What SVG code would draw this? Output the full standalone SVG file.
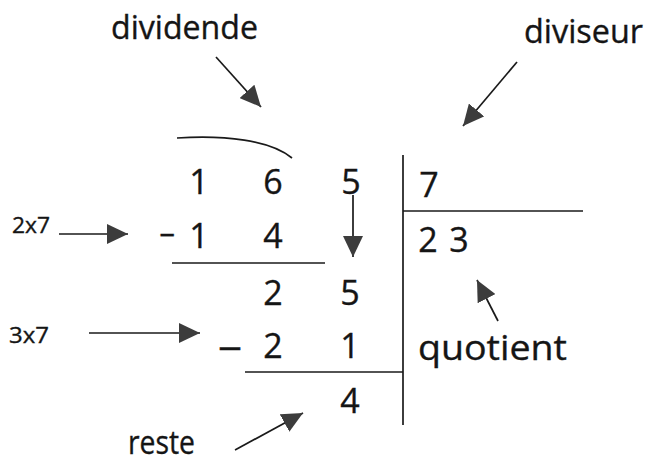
<svg xmlns="http://www.w3.org/2000/svg" width="646" height="465" viewBox="0 0 646 465">
<defs>
<style>
.lbl{font-family:"Open Sans","Noto Sans","Liberation Sans",sans-serif;fill:#151515;stroke:#151515;stroke-width:0.35}
.big{font-size:32px}
.sm{font-size:22px}
.dig{font-family:"Open Sans","Noto Sans","Liberation Sans",sans-serif;font-size:34px;fill:#151515;stroke:#151515;stroke-width:0.35;text-anchor:middle}
.ln{stroke:#1a1a1a;stroke-width:1.7;fill:none}
.ar{stroke:#1a1a1a;stroke-width:1.7;fill:none;marker-end:url(#head)}
</style>
<marker id="head" viewBox="0 0 21 20" refX="21" refY="10" markerWidth="21" markerHeight="20" markerUnits="userSpaceOnUse" orient="auto">
<path d="M0,0 L21,10 L0,20 Z" fill="#3c3c3c"/>
</marker>
</defs>
<rect width="646" height="465" fill="#ffffff"/>

<g id="labels">
<text id="dividende" class="lbl big" x="111" y="39" textLength="147" lengthAdjust="spacingAndGlyphs">dividende</text>
<text id="diviseur" class="lbl big" x="524" y="43" textLength="119" lengthAdjust="spacingAndGlyphs">diviseur</text>
<text id="t2x7" class="lbl sm" x="12" y="233" textLength="38" lengthAdjust="spacingAndGlyphs">2x7</text>
<text id="t3x7" class="lbl sm" x="9" y="343" textLength="40" lengthAdjust="spacingAndGlyphs">3x7</text>
<text id="quotient" class="lbl" font-size="35" x="418" y="360" textLength="149" lengthAdjust="spacingAndGlyphs">quotient</text>
<text id="reste" class="lbl big" x="128" y="454" textLength="67" lengthAdjust="spacingAndGlyphs">reste</text>
</g>

<g id="division">
<path id="arc" class="ln" d="M177,138 C225,135 270,140 292,158"/>
<line id="vbar" class="ln" x1="403" y1="155" x2="403" y2="425"/>
<line id="hbar-divisor" class="ln" x1="403" y1="211" x2="583" y2="211"/>
<line id="line1" class="ln" x1="172" y1="263" x2="325" y2="263"/>
<line id="line2" class="ln" x1="245" y1="372" x2="403" y2="372"/>

<text class="dig" x="199" y="194">1</text>
<text class="dig" x="273" y="194">6</text>
<text class="dig" x="351" y="194">5</text>
<text class="dig" x="429" y="197">7</text>

<text class="dig" x="167" y="247" textLength="16" lengthAdjust="spacingAndGlyphs">−</text>
<text class="dig" x="199" y="248">1</text>
<text class="dig" x="273" y="248">4</text>
<text class="dig" x="428" y="252">2</text>
<text class="dig" x="459" y="252">3</text>

<text class="dig" x="273" y="305">2</text>
<text class="dig" x="350" y="305">5</text>

<text class="dig" x="230" y="358" textLength="24" lengthAdjust="spacingAndGlyphs">–</text>
<text class="dig" x="273" y="358">2</text>
<text class="dig" x="350" y="358">1</text>

<text class="dig" x="350" y="413">4</text>
</g>

<g id="connectors">
<line class="ar" x1="216" y1="57" x2="261" y2="107"/>
<line class="ar" x1="517" y1="62" x2="463" y2="126"/>
<line class="ar" x1="59" y1="234" x2="128" y2="234"/>
<line class="ar" x1="89" y1="333" x2="200" y2="333"/>
<line class="ar" x1="353" y1="195" x2="353" y2="257"/>
<line class="ar" x1="498" y1="321" x2="477" y2="280"/>
<line class="ar" x1="235" y1="450" x2="303" y2="413"/>
</g>
</svg>
